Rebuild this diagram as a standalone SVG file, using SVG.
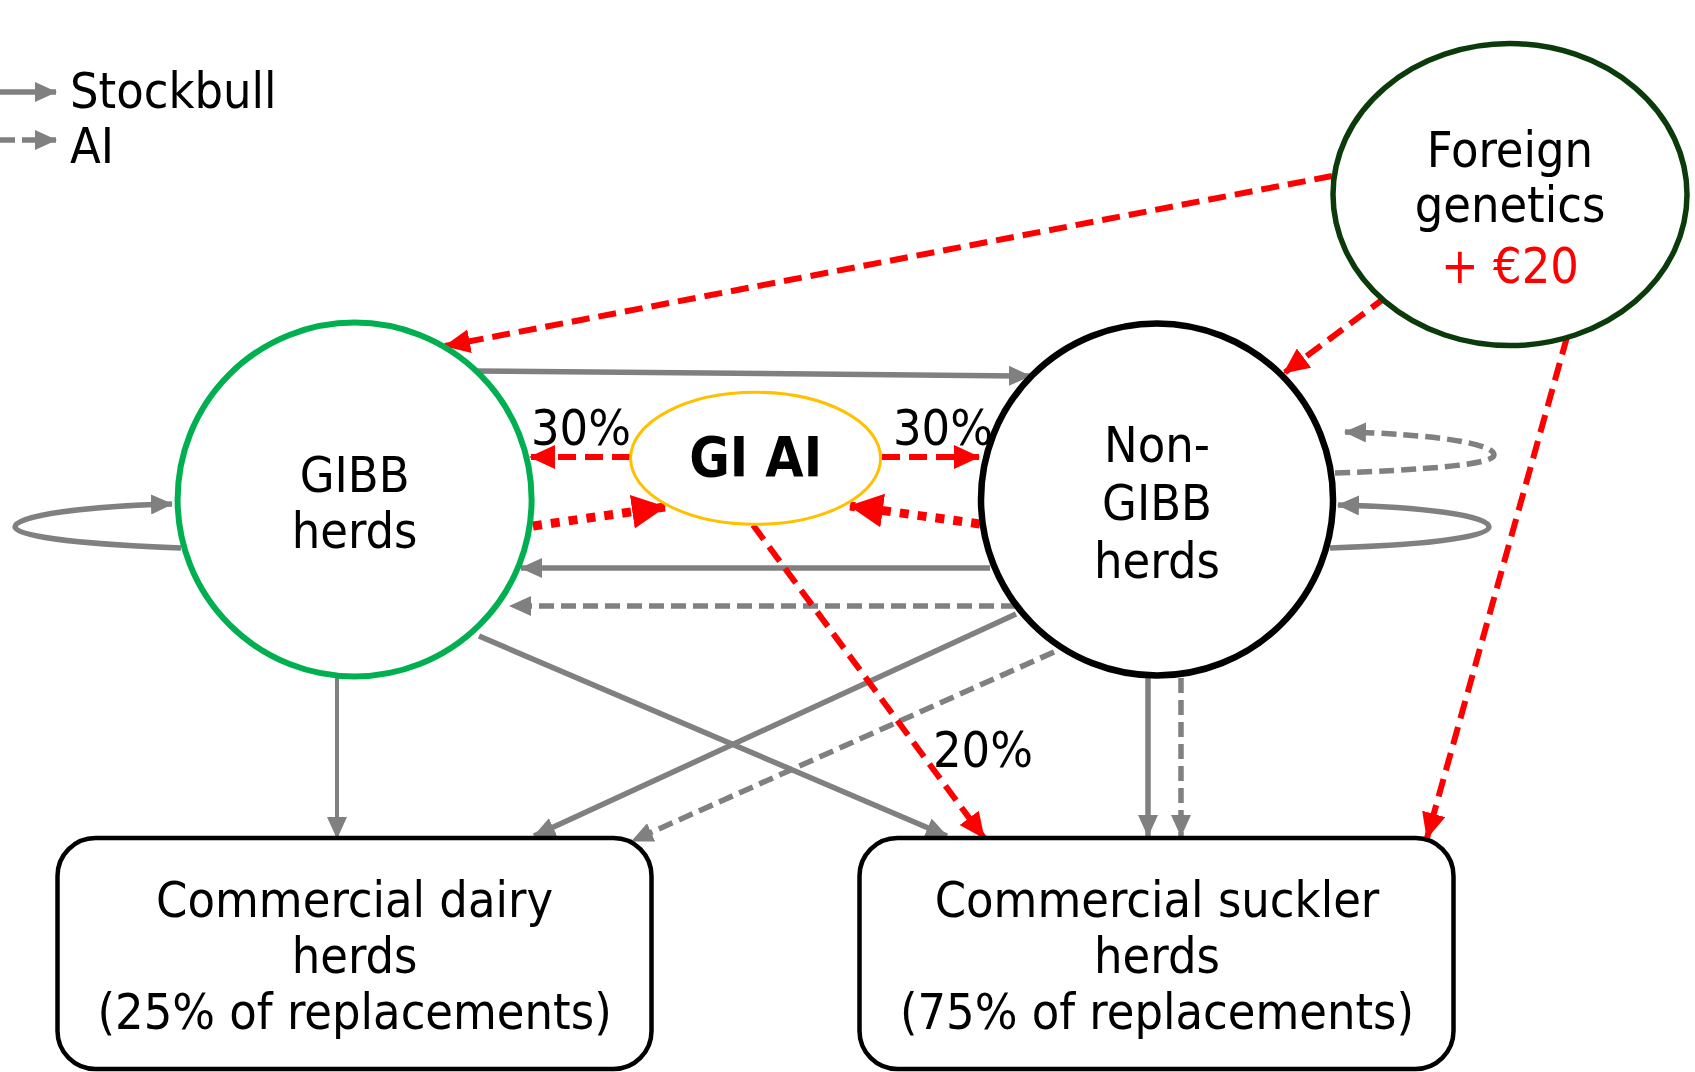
<svg xmlns="http://www.w3.org/2000/svg" width="1695" height="1072" viewBox="0 0 1695 1072">
<style>
text{font-family:"DejaVu Sans Condensed","DejaVu Sans",sans-serif;font-stretch:condensed;font-size:50px;fill:#000;text-anchor:middle}
.lg{text-anchor:start}
.g{fill:none;stroke:#808080;stroke-width:5.5}
.gd{fill:none;stroke:#808080;stroke-width:5.5;stroke-dasharray:15 7}
.rd{fill:none;stroke:#ff0000;stroke-width:6;stroke-dasharray:18 9}
.rt{fill:none;stroke:#ff0000;stroke-width:9;stroke-dasharray:9 9}
.node{fill:#fff}
</style>
<defs>
<marker id="ag" markerUnits="userSpaceOnUse" markerWidth="22" markerHeight="20" refX="21" refY="10" orient="auto"><path d="M0,0 L22,10 L0,20 z" fill="#808080"/></marker>
<marker id="ar" markerUnits="userSpaceOnUse" markerWidth="26" markerHeight="24" refX="25" refY="12" orient="auto"><path d="M0,0 L26,12 L0,24 z" fill="#ff0000"/></marker>
<marker id="ab" markerUnits="userSpaceOnUse" markerWidth="34" markerHeight="34" refX="33" refY="17" orient="auto"><path d="M0,0 L34,17 L0,34 z" fill="#ff0000"/></marker>
</defs>
<g id="legend">
<line class="g" x1="0" y1="92" x2="56" y2="92" marker-end="url(#ag)"/>
<line class="gd" x1="0" y1="140" x2="56" y2="140" marker-end="url(#ag)"/>
<text class="lg" x="70" y="108">Stockbull</text>
<text class="lg" x="70" y="163">AI</text>
</g>
<g id="connectors">
<path class="rd" d="M1332,176 L445,346" marker-end="url(#ar)"/>
<path class="rd" d="M1386,297 L1284,373" marker-end="url(#ar)"/>
<path class="rd" d="M1567,337 L1427,838" marker-end="url(#ar)"/>
<path class="g" d="M471,371 L1030,376" marker-end="url(#ag)"/>
<path class="rd" d="M630,457 L530,457" marker-end="url(#ar)"/>
<path class="rd" d="M882,457 L979,457" marker-end="url(#ar)"/>
<path class="rt" d="M533,526 L665,507" marker-end="url(#ab)"/>
<path class="rt" d="M980,524 L850,506" marker-end="url(#ab)"/>
<path class="g" d="M990,568 L521,568" marker-end="url(#ag)"/>
<path class="gd" d="M1016,606 L510,606" marker-end="url(#ag)"/>
<path class="g" d="M479,636 L947,836" marker-end="url(#ag)"/>
<path class="g" d="M1016,614 L534,836" marker-end="url(#ag)"/>
<path class="gd" d="M1054,652 L632,841" marker-end="url(#ag)"/>
<path class="rd" d="M753,525 L984,838" marker-end="url(#ar)"/>
<path class="g" style="stroke-width:4" d="M337,678 L337,838" marker-end="url(#ag)"/>
<path class="g" d="M1148,678 L1148,836" marker-end="url(#ag)"/>
<path class="gd" d="M1181,678 L1181,836" marker-end="url(#ag)"/>
<path class="g" d="M181,548 C100,545 15,538 15,527 C15,515 90,506 172,504" marker-end="url(#ag)"/>
<path class="g" d="M1330,548 C1420,545 1489,538 1489,527 C1489,515 1420,507 1338,505" marker-end="url(#ag)"/>
<path class="gd" d="M1335,473 C1420,470 1494,465 1494,455 C1494,443 1430,434 1345,432" marker-end="url(#ag)"/>
<text x="581" y="445">30%</text>
<text x="943" y="445">30%</text>
<text x="983" y="767">20%</text>
</g>
<g id="gibb">
<circle class="node" cx="354.6" cy="499.5" r="177" stroke="#00b050" stroke-width="6"/>
<text x="354.6" y="492">GIBB</text>
<text x="354.6" y="548">herds</text>
</g>
<g id="nongibb">
<circle class="node" cx="1157" cy="499.5" r="176" stroke="#000" stroke-width="6.5"/>
<text x="1157" y="462">Non-</text>
<text x="1157" y="520">GIBB</text>
<text x="1157" y="578">herds</text>
</g>
<g id="giai">
<ellipse class="node" cx="755.6" cy="458.3" rx="125" ry="66" stroke="#ffc000" stroke-width="3"/>
<text x="755.6" y="476" style="font-weight:bold;font-size:55px">GI AI</text>
</g>
<g id="foreign">
<ellipse class="node" cx="1510" cy="194.6" rx="177" ry="151" stroke="#0b3b0b" stroke-width="5.5"/>
<text x="1510" y="167">Foreign</text>
<text x="1510" y="222">genetics</text>
<text x="1510" y="283" style="fill:#ff0000">+ €20</text>
</g>
<g id="dairy">
<rect x="57.5" y="838" width="594" height="231" rx="38" ry="38" fill="#fff" stroke="#000" stroke-width="4.5"/>
<text x="354.6" y="917">Commercial dairy</text>
<text x="354.6" y="973">herds</text>
<text x="354.6" y="1029">(25% of replacements)</text>
</g>
<g id="suckler">
<rect x="859.5" y="838" width="594" height="231" rx="38" ry="38" fill="#fff" stroke="#000" stroke-width="4.5"/>
<text x="1157" y="917">Commercial suckler</text>
<text x="1157" y="973">herds</text>
<text x="1157" y="1029">(75% of replacements)</text>
</g>
</svg>
